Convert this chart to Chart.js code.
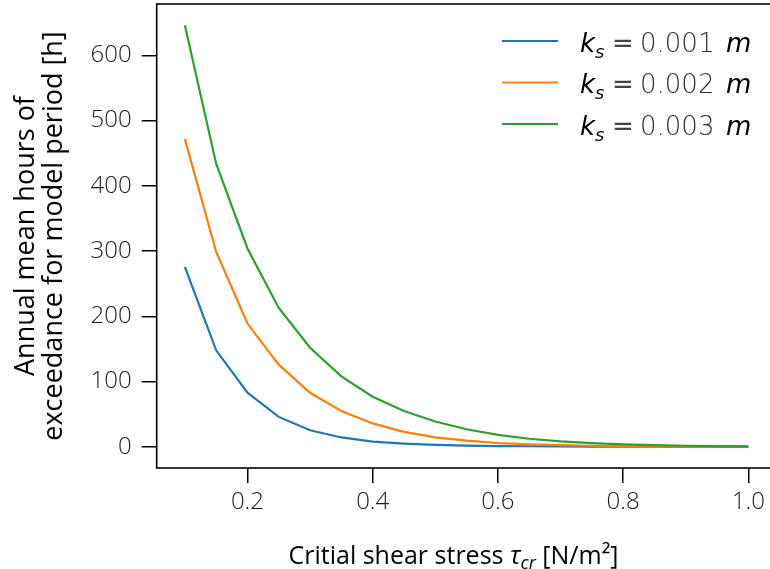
<!DOCTYPE html>
<html>
<head>
<meta charset="utf-8">
<script src="https://cdn.jsdelivr.net/npm/chart.js@4/dist/chart.umd.min.js"></script>
<style>
  html, body { margin: 0; padding: 0; background: #fff; overflow: hidden; }
  #wrap { width: 790px; height: 569px; }
</style>
</head>
<body>
<div id="wrap"><canvas id="chart" width="790" height="569"></canvas></div>
<script>
// critical shear stress [N/m2]
var tauValues = [0.1, 0.15, 0.2, 0.25, 0.3, 0.35, 0.4, 0.45, 0.5, 0.55, 0.6, 0.65, 0.7, 0.75, 0.8, 0.85, 0.9, 0.95, 1.0];
// annual mean hours of exceedance [h], one list per roughness
var hoursKs001 = [276, 148, 83, 46, 25.5, 14.5, 8, 5, 3, 2, 1.3, 1, 0.7, 0.5, 0.4, 0.3, 0.2, 0.2, 0.1];
var hoursKs002 = [472, 299, 189, 126, 83, 55, 36, 23, 14.5, 9.5, 6, 4, 2.7, 1.8, 1.2, 0.8, 0.6, 0.4, 0.3];
var hoursKs003 = [646, 434, 304, 213, 152, 108, 77, 55, 39, 27, 18.5, 12.5, 8.5, 5.8, 4, 2.7, 1.8, 1.2, 0.8];
var ksLabels = ['0.001', '0.002', '0.003'];
var seriesColors = ['#1f77b4', '#ff7f0e', '#2ca02c'];
var xTicks = [0.2, 0.4, 0.6, 0.8, 1.0];
var xTickLabels = ['0.2', '0.4', '0.6', '0.8', '1.0'];
var yTicks = [0, 100, 200, 300, 400, 500, 600];
var yTickLabels = ['0', '100', '200', '300', '400', '500', '600'];
var yTitleLines = ['Annual mean hours of', 'exceedance for model period [h]'];

var FONT = '"Open Sans", "Noto Sans", sans-serif';

function toPoints(ys) {
  return tauValues.map(function(x, i) { return { x: x, y: ys[i] }; });
}

var allSeries = [hoursKs001, hoursKs002, hoursKs003];
var datasets = allSeries.map(function(ys, i) {
  return {
    label: ksLabels[i],
    data: toPoints(ys),
    borderColor: seriesColors[i],
    backgroundColor: seriesColors[i],
    borderWidth: 2.2,
    pointRadius: 0,
    tension: 0,
    order: 3 - i
  };
});

// frame around the plot (all four spines)
var framePlugin = {
  id: 'frame',
  afterDatasetsDraw: function(chart) {
    var a = chart.chartArea, ctx = chart.ctx;
    ctx.save();
    ctx.strokeStyle = '#000';
    ctx.lineWidth = 1.6;
    ctx.strokeRect(a.left, a.top, a.right - a.left, a.bottom - a.top);
    ctx.restore();
  }
};

// axis titles with italic / subscript parts, plus the legend
var titlePlugin = {
  id: 'titles',
  afterDraw: function(chart) {
    var ctx = chart.ctx, a = chart.chartArea;
    ctx.save();
    ctx.fillStyle = '#000';

    // y title, two rotated lines
    ctx.save();
    ctx.translate(33.5, (a.top + a.bottom) / 2);
    ctx.rotate(-Math.PI / 2);
    ctx.font = '27px ' + FONT;
    ctx.textAlign = 'center';
    ctx.textBaseline = 'alphabetic';
    ctx.fillText(yTitleLines[0], 0, 0);
    ctx.fillText(yTitleLines[1], 0, 28.5);
    ctx.restore();

    // x title
    var runs = [
      { t: 'Critial shear stress ', f: '25px ' + FONT, dy: 0 },
      { t: '\u03C4', f: 'italic 25px ' + FONT, dy: 0 },
      { t: 'cr', f: 'italic 18px ' + FONT, dy: 5 },
      { t: ' [N/m\u00B2]', f: '25px ' + FONT, dy: 0 }
    ];
    var total = 0;
    runs.forEach(function(r) { ctx.font = r.f; r.w = ctx.measureText(r.t).width; total += r.w; });
    var x = 453.5 - total / 2, base = 564;
    ctx.textAlign = 'left';
    ctx.textBaseline = 'alphabetic';
    runs.forEach(function(r) { ctx.font = r.f; ctx.fillText(r.t, x, base + r.dy); x += r.w; });

    // legend
    chart.data.datasets.forEach(function(ds, i) {
      var ly = 41 + i * 41.5;
      ctx.strokeStyle = ds.borderColor;
      ctx.lineWidth = 2.2;
      ctx.beginPath();
      ctx.moveTo(502, ly);
      ctx.lineTo(558, ly);
      ctx.stroke();
      var parts = [
        { t: 'k', f: 'italic 26px "DejaVu Sans"', dy: 0, c: '#000', x: 580 },
        { t: 's', f: 'italic 18px "DejaVu Sans"', dy: 6, c: '#000' },
        { t: '=', f: '26px "DejaVu Sans"', dy: 0, c: '#444', x: 612 },
        { t: ds.label, f: '200 26px "DejaVu Sans"', dy: 0, c: '#333', x: 640 },
        { t: 'm', f: 'italic 26px "DejaVu Sans"', dy: 0, c: '#000', x: 726 }
      ];
      var tx = 580;
      parts.forEach(function(p) {
        if (p.x !== undefined) tx = p.x;
        ctx.font = p.f;
        ctx.fillStyle = p.c;
        ctx.fillText(p.t, tx, ly + 10.7 + p.dy);
        tx += ctx.measureText(p.t).width;
      });
    });
    ctx.restore();
  }
};

new Chart(document.getElementById('chart'), {
  type: 'line',
  data: { datasets: datasets },
  plugins: [framePlugin, titlePlugin],
  options: {
    responsive: false,
    animation: false,
    layout: { padding: { top: 4, right: 13.5, left: 0, bottom: 0 } },
    plugins: {
      legend: { display: false },
      tooltip: { enabled: false }
    },
    scales: {
      x: {
        type: 'linear',
        min: 0.055,
        max: 1.045,
        afterBuildTicks: function(scale) {
          scale.ticks = xTicks.map(function(v) { return { value: v }; });
        },
        afterFit: function(scale) {
          scale.height = 101;
          scale.paddingLeft = 0;
          scale.paddingRight = 0;
        },
        border: { display: false },
        grid: { drawOnChartArea: false, drawTicks: true, tickLength: 15, color: '#000', lineWidth: 1.5 },
        ticks: {
          padding: 5,
          color: '#1a1a1a',
          font: { family: FONT, size: 24, weight: '300' },
          maxRotation: 0,
          callback: function(v, i) { return xTickLabels[i]; }
        }
      },
      y: {
        min: -32.3,
        max: 678.6,
        afterBuildTicks: function(scale) {
          scale.ticks = yTicks.map(function(v) { return { value: v }; });
        },
        afterFit: function(scale) {
          scale.width = 156.7;
          scale.paddingTop = 0;
          scale.paddingBottom = 0;
        },
        border: { display: false },
        grid: { drawOnChartArea: false, drawTicks: true, tickLength: 15, color: '#000', lineWidth: 1.5 },
        ticks: {
          padding: 10,
          color: '#1a1a1a',
          font: { family: FONT, size: 24, weight: '300' },
          callback: function(v, i) { return yTickLabels[i]; }
        }
      }
    }
  }
});
</script>
</body>
</html>
